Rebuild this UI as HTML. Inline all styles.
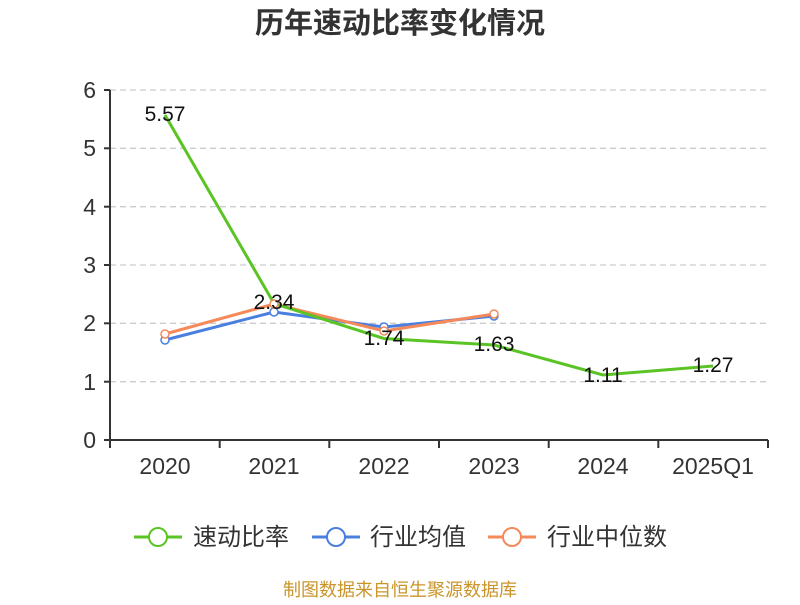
<!DOCTYPE html>
<html><head><meta charset="utf-8"><style>
body{margin:0;background:#fff;}
svg text{font-family:"Liberation Sans","Noto Sans CJK SC",sans-serif;}
</style></head><body>
<svg width="800" height="600" xmlns="http://www.w3.org/2000/svg">
<rect width="800" height="600" fill="#fff"/>
<text x="400" y="33" text-anchor="middle" font-size="29" font-weight="bold" fill="#333">历年速动比率变化情况</text>
<g stroke="#ccc" stroke-dasharray="6,4" stroke-width="1.3">
<line x1="110" y1="90" x2="768" y2="90"/><line x1="110" y1="148.3" x2="768" y2="148.3"/>
<line x1="110" y1="206.7" x2="768" y2="206.7"/><line x1="110" y1="265" x2="768" y2="265"/>
<line x1="110" y1="323.3" x2="768" y2="323.3"/><line x1="110" y1="381.7" x2="768" y2="381.7"/>
</g>
<g stroke="#333" stroke-width="2">
<line x1="110" y1="90" x2="110" y2="440"/><line x1="110" y1="440" x2="768" y2="440"/>
<line x1="104" y1="90" x2="110" y2="90"/><line x1="104" y1="148.3" x2="110" y2="148.3"/><line x1="104" y1="206.7" x2="110" y2="206.7"/><line x1="104" y1="265" x2="110" y2="265"/><line x1="104" y1="323.3" x2="110" y2="323.3"/><line x1="104" y1="381.7" x2="110" y2="381.7"/><line x1="104" y1="440" x2="110" y2="440"/>
<line x1="110" y1="440" x2="110" y2="448"/><line x1="219.7" y1="440" x2="219.7" y2="448"/><line x1="329.3" y1="440" x2="329.3" y2="448"/><line x1="439" y1="440" x2="439" y2="448"/><line x1="548.7" y1="440" x2="548.7" y2="448"/><line x1="658.3" y1="440" x2="658.3" y2="448"/><line x1="768" y1="440" x2="768" y2="448"/>
</g>
<g font-size="23" fill="#333" text-anchor="end">
<text x="96" y="98">6</text><text x="96" y="156">5</text><text x="96" y="215">4</text><text x="96" y="273">3</text><text x="96" y="331">2</text><text x="96" y="390">1</text><text x="96" y="448">0</text>
</g>
<g font-size="23" fill="#333" text-anchor="middle">
<text x="165" y="474">2020</text><text x="274" y="474">2021</text><text x="384" y="474">2022</text><text x="494" y="474">2023</text><text x="603" y="474">2024</text><text x="713" y="474">2025Q1</text>
</g>
<polyline points="165,340 274,312 384,327 494,316" fill="none" stroke="#4a7fe0" stroke-width="3"/>
<polyline points="165,334 274,304 384,331 494,314" fill="none" stroke="#f5895a" stroke-width="3"/>
<polyline points="165,115 274,303.5 384,338.5 494,345 603,375 713,366" fill="none" stroke="#5bc425" stroke-width="3"/>
<g fill="#fff" stroke-width="1.5">
<circle cx="165" cy="340" r="4" stroke="#4a7fe0"/><circle cx="274" cy="312" r="4" stroke="#4a7fe0"/><circle cx="384" cy="327" r="4" stroke="#4a7fe0"/><circle cx="494" cy="316" r="4" stroke="#4a7fe0"/>
<circle cx="165" cy="334" r="4" stroke="#f5895a"/><circle cx="274" cy="304" r="4" stroke="#f5895a"/><circle cx="384" cy="331" r="4" stroke="#f5895a"/><circle cx="494" cy="314" r="4" stroke="#f5895a"/>
</g>
<g font-size="21" fill="#111" text-anchor="middle">
<text x="165" y="121">5.57</text><text x="274" y="309">2.34</text><text x="384" y="345">1.74</text><text x="494" y="351">1.63</text><text x="603" y="382">1.11</text><text x="713" y="372">1.27</text>
</g>
<g font-size="24" fill="#333">
<line x1="134" y1="537" x2="182" y2="537" stroke="#5bc425" stroke-width="3"/><circle cx="158" cy="537" r="9" fill="#fff" stroke="#5bc425" stroke-width="2"/>
<text x="193" y="545">速动比率</text>
<line x1="312" y1="537" x2="360" y2="537" stroke="#4a7fe0" stroke-width="3"/><circle cx="336" cy="537" r="9" fill="#fff" stroke="#4a7fe0" stroke-width="2"/>
<text x="370" y="545">行业均值</text>
<line x1="488" y1="537" x2="536" y2="537" stroke="#f5895a" stroke-width="3"/><circle cx="512" cy="537" r="9" fill="#fff" stroke="#f5895a" stroke-width="2"/>
<text x="547" y="545">行业中位数</text>
</g>
<text x="400" y="596" text-anchor="middle" font-size="18" fill="#c9952a">制图数据来自恒生聚源数据库</text>
</svg>
</body></html>
